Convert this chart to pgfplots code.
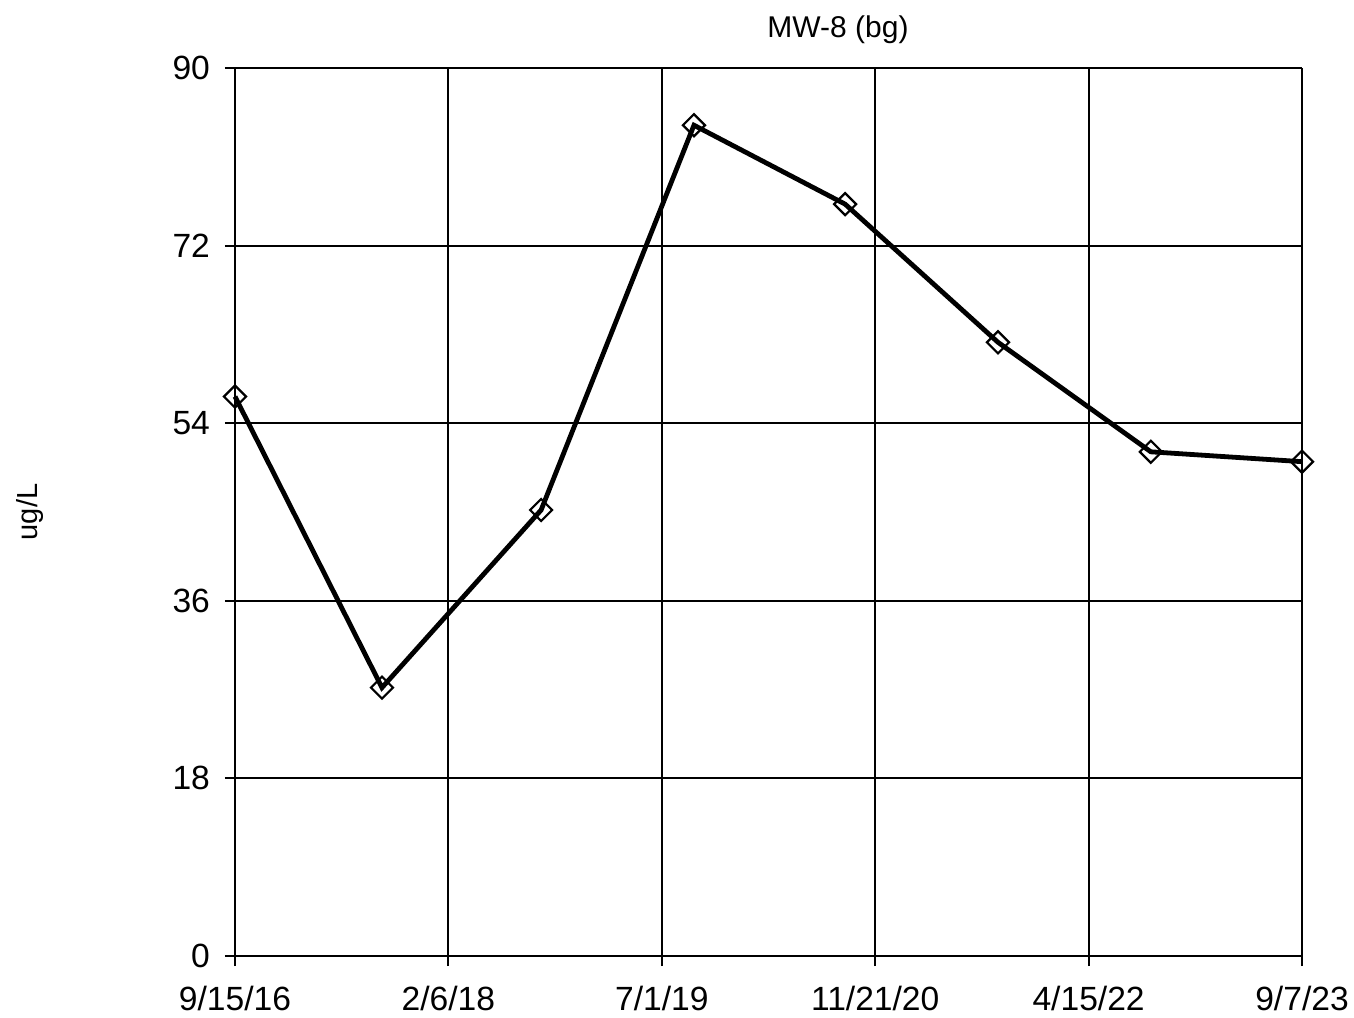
\documentclass[border=0pt]{standalone}
\usepackage{fontspec}
\setmainfont{Liberation Sans}
\usepackage{pgfplots}
\pgfplotsset{compat=1.18}
\begin{document}
\begin{tikzpicture}
% 1 px of the reference = 0.5pt
\useasboundingbox (-117.5pt,-30.5pt) rectangle (559.5pt,478pt);
\begin{axis}[
    at={(0,0)}, anchor=south west,
    scale only axis,
    width=533.5pt, height=444pt,
    xmin=0, xmax=2548,
    ymin=0, ymax=90,
    xtick={0,509.6,1019.2,1528.8,2038.4,2548},
    xticklabels={9/15/16,2/6/18,7/1/19,11/21/20,4/15/22,9/7/23},
    ytick={0,18,36,54,72,90},
    axis lines*=left,
    axis line style={line width=1pt, -},
    grid=major,
    major grid style={line width=1pt, black},
    tick style={line width=1pt, black},
    tick align=outside,
    major tick length=5pt,
    tick label style={font=\fontsize{16.8}{19}\selectfont},
    /pgf/number format/assume math mode=true,
    xticklabel style={yshift=-6.5pt},
    yticklabel style={xshift=-4pt},
    clip=false,
]
\addplot[black, line width=2.4pt, mark=square, mark size=3.9pt,
    mark options={rotate=45, fill=white, line width=1.1pt, solid}]
    coordinates {
    (0,56.7) (351,27.2) (731,45.2) (1096,84.2)
    (1457,76.2) (1822,62.2) (2187,51.1) (2548,50.1)
};
\end{axis}
\node[font=\fontsize{15}{17}\selectfont] at (301.5pt,463pt) {MW-8 (bg)};
\node[font=\fontsize{14.5}{16}\selectfont, rotate=90] at (-102.5pt,222pt) {ug/L};
\end{tikzpicture}
\end{document}
